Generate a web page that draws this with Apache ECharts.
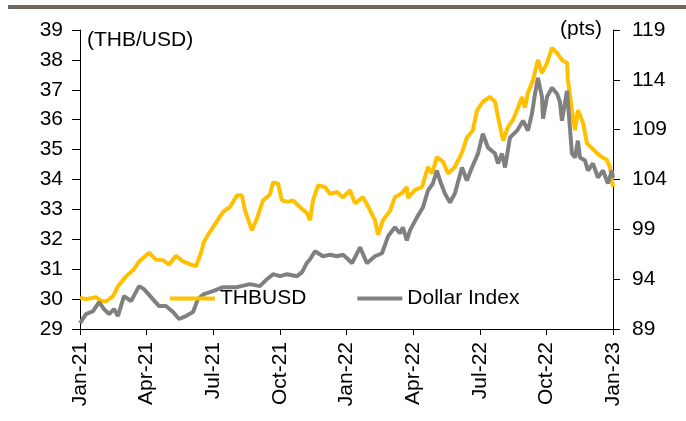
<!DOCTYPE html>
<html>
<head>
<meta charset="utf-8">
<script src="https://cdn.jsdelivr.net/npm/echarts@6/dist/echarts.min.js"></script>
<style>
  html, body { margin: 0; padding: 0; background: #fff; }
  #main { width: 686px; height: 421px; }
</style>
</head>
<body>
<div id="main"></div>
<script>
var chartDom = document.getElementById('main');
var myChart = echarts.init(chartDom);
var option;

// x = months since Jan-21
let quarterLabels = ['Jan-21', 'Apr-21', 'Jul-21', 'Oct-21', 'Jan-22', 'Apr-22', 'Jul-22', 'Oct-22', 'Jan-23'];

let thbMonths = [0.00, 0.27, 0.72, 0.95, 1.17, 1.49, 1.71, 2.07, 2.43, 2.66, 3.11, 3.42, 3.74, 4.01, 4.32, 4.64, 5.00, 5.22, 5.45, 5.58,
  5.81, 6.03, 6.44, 6.75, 7.07, 7.29, 7.43, 7.74, 7.97, 8.24, 8.55, 8.69, 8.92, 9.09, 9.36, 9.59, 9.90, 10.22, 10.36, 10.49,
  10.72, 11.03, 11.26, 11.57, 11.84, 12.16, 12.38, 12.74, 13.06, 13.28, 13.42, 13.64, 13.96,
  14.18, 14.50, 14.72, 14.77, 15.08, 15.40, 15.67, 15.85, 16.07, 16.34, 16.57, 16.88, 17.20, 17.42, 17.69, 17.87, 18.14, 18.46, 18.69, 18.82,
  19.05, 19.27, 19.50, 19.72, 19.90, 20.04, 20.17, 20.40, 20.62, 20.80, 21.03, 21.25, 21.48, 21.70, 21.93, 21.97, 22.15, 22.29, 22.42, 22.65,
  22.83, 23.05, 23.28, 23.50, 23.73, 23.86, 24.00];
let thbValues = [30.05, 30.00, 30.06, 29.95, 29.92, 30.10, 30.43, 30.76, 31.00, 31.26, 31.55, 31.32, 31.30, 31.15, 31.45, 31.26, 31.15, 31.10, 31.55, 31.92,
  32.20, 32.45, 32.92, 33.08, 33.47, 33.47, 32.97, 32.30, 32.70, 33.30, 33.50, 33.90, 33.86, 33.30, 33.25, 33.30, 33.08, 32.87, 32.64, 33.30,
  33.80, 33.75, 33.52, 33.58, 33.40, 33.64, 33.20, 33.41, 32.97, 32.64, 32.15, 32.64, 32.95,
  33.41, 33.55, 33.75, 33.38, 33.65, 33.75, 34.42, 34.20, 34.75, 34.60, 34.20, 34.42, 34.90, 35.40, 35.65, 36.30, 36.60, 36.76, 36.60, 36.10,
  35.30, 35.75, 36.00, 36.40, 36.76, 36.40, 36.90, 37.33, 38.00, 37.56, 37.90, 38.40, 38.23, 38.00, 37.90, 37.33, 36.32, 35.65, 36.32, 35.90,
  35.20, 35.05, 34.88, 34.75, 34.65, 34.42, 33.75];

let dxyMonths = [0.00, 0.27, 0.59, 0.86, 1.08, 1.31, 1.53, 1.71, 1.98, 2.30, 2.66, 2.88, 3.20, 3.56, 3.87, 4.19, 4.46, 4.77, 5.09, 5.31,
  5.58, 5.99, 6.44, 7.07, 7.65, 8.10, 8.42, 8.69, 9.01, 9.32, 9.77, 10.00, 10.22, 10.36, 10.58, 10.94, 11.26, 11.57, 11.84, 12.07,
  12.25, 12.61, 12.92, 13.28, 13.60, 13.87,
  14.18, 14.41, 14.54, 14.72, 14.86, 15.17, 15.44, 15.67, 15.89, 16.07, 16.21, 16.43, 16.66, 16.88, 17.20, 17.42, 17.65, 17.92, 18.14, 18.37,
  18.69, 18.82, 19.00, 19.14, 19.36, 19.68, 19.95, 20.17, 20.35, 20.49, 20.62, 20.80, 20.85, 21.03, 21.25, 21.48, 21.61, 21.70, 21.93, 22.06,
  22.15, 22.29, 22.42, 22.51, 22.74, 22.87, 23.10, 23.32, 23.55, 23.77, 23.95, 24.00];
let dxyValues = [89.6, 90.5, 90.8, 91.7, 91.0, 90.5, 91.0, 90.3, 92.3, 91.8, 93.3, 93.0, 92.2, 91.3, 91.3, 90.7, 90.0, 90.3, 90.7, 92.0,
  92.5, 92.8, 93.2, 93.2, 93.5, 93.3, 94.0, 94.5, 94.3, 94.5, 94.3, 94.7, 95.65, 96.0, 96.8, 96.3, 96.45, 96.3, 96.45, 96.0,
  95.6, 97.2, 95.6, 96.3, 96.6, 98.3,
  99.2, 98.6, 99.2, 97.9, 98.9, 100.2, 101.2, 102.9, 103.6, 104.9, 103.9, 102.6, 101.7, 102.6, 105.2, 103.9, 105.2, 106.6, 108.6, 107.2,
  106.6, 105.6, 106.6, 105.2, 108.2, 108.9, 109.9, 108.9, 110.6, 112.6, 114.2, 112.3, 110.1, 112.3, 113.2, 112.6, 111.8, 109.9, 112.9, 109.2,
  106.6, 106.2, 107.9, 106.2, 105.9, 104.9, 105.6, 104.2, 104.9, 103.6, 104.9, 104.2];

function pairs(xs, ys) {
  let out = [];
  for (var i = 0; i < xs.length; i++) {
    out.push([xs[i], ys[i]]);
  }
  return out;
}

let fontFam = '"Liberation Sans", Arial, sans-serif';
let axisText = { color: '#000', fontSize: 21, fontFamily: fontFam };

option = {
  animation: false,
  grid: { left: 80, right: 73, top: 30, bottom: 92 },
  graphic: [
    { type: 'rect', shape: { x: 8, y: 5, width: 678, height: 4 }, style: { fill: '#74665f' } },
    { type: 'text', left: 87, top: 30, style: { text: '(THB/USD)', fill: '#000', font: '21px "Liberation Sans", Arial, sans-serif' } },
    { type: 'text', right: 84, top: 19, style: { text: '(pts)', fill: '#000', font: '21px "Liberation Sans", Arial, sans-serif' } }
  ],
  legend: {
    left: 170,
    top: 288,
    padding: 0,
    icon: 'rect',
    itemWidth: 45,
    itemHeight: 4,
    itemGap: 51,
    textStyle: { color: '#000', fontSize: 21, fontFamily: fontFam },
    data: ['THBUSD', 'Dollar Index']
  },
  xAxis: {
    type: 'value',
    min: 0,
    max: 24,
    interval: 3,
    splitLine: { show: false },
    axisLine: { lineStyle: { color: '#000', width: 1 } },
    axisTick: { inside: false, length: 6, lineStyle: { color: '#000' } },
    axisLabel: Object.assign({
      rotate: 90,
      margin: 13,
      formatter: function (v) { return quarterLabels[Math.round(v / 3)]; }
    }, axisText)
  },
  yAxis: [
    {
      type: 'value',
      min: 29,
      max: 39,
      interval: 1,
      position: 'left',
      splitLine: { show: false },
      axisLine: { show: true, lineStyle: { color: '#000', width: 1 } },
      axisTick: { show: true, length: 8, lineStyle: { color: '#000' } },
      axisLabel: Object.assign({ margin: 17 }, axisText)
    },
    {
      type: 'value',
      min: 89,
      max: 119,
      interval: 5,
      position: 'right',
      splitLine: { show: false },
      axisLine: { show: true, lineStyle: { color: '#000', width: 1 } },
      axisTick: { show: true, length: 7, lineStyle: { color: '#000' } },
      axisLabel: Object.assign({ margin: 19 }, axisText)
    }
  ],
  series: [
    {
      name: 'THBUSD',
      type: 'line',
      yAxisIndex: 0,
      symbol: 'none',
      data: pairs(thbMonths, thbValues),
      itemStyle: { color: '#FFC000' },
      lineStyle: { color: '#FFC000', width: 4 }
    },
    {
      name: 'Dollar Index',
      type: 'line',
      yAxisIndex: 1,
      symbol: 'none',
      data: pairs(dxyMonths, dxyValues),
      itemStyle: { color: '#808080' },
      lineStyle: { color: '#808080', width: 4 }
    }
  ]
};

option && myChart.setOption(option);
</script>
</body>
</html>
